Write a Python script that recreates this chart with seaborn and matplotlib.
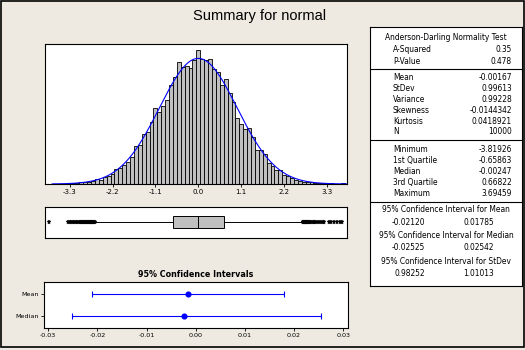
import numpy as np
import pandas as pd
import matplotlib
matplotlib.use("Agg")
import matplotlib.pyplot as plt
import seaborn as sns
from matplotlib.patches import Rectangle

# ---------------------------------------------------------------- data
bin_start = -3.85
bin_width = 0.1
hist_counts = [
    1, 0, 0, 0, 1, 2, 2, 3, 5, 5, 7, 9, 16, 13, 22, 27, 33, 49, 52, 62,
    70, 86, 122, 124, 160, 165, 198, 242, 228, 248, 268, 316, 342, 390,
    372, 375, 370, 396, 426, 400, 396, 398, 366, 358, 316, 334, 290, 262,
    209, 190, 175, 178, 150, 110, 110, 95, 66, 57, 46, 45, 30, 27, 18, 13,
    11, 7, 6, 5, 4, 3, 3, 2, 2, 1, 1, 2,
]
hist_ticks = [-3.3, -2.2, -1.1, 0.0, 1.1, 2.2, 3.3]
hist_tick_labels = ["-3.3", "-2.2", "-1.1", "0.0", "1.1", "2.2", "3.3"]

n_obs = 10000
a_squared = 0.35
p_value = 0.478
mean = -0.00167
stdev = 0.99613
variance = 0.99228
skewness = -0.0144342
kurtosis = 0.0418921
minimum = -3.81926
q1 = -0.65863
median = -0.00247
q3 = 0.66822
maximum = 3.69459
mean_ci = (-0.02120, 0.01785)
median_ci = (-0.02525, 0.02542)
stdev_ci = (0.98252, 1.01013)

whisker_low = -2.64
whisker_high = 2.65
outliers_low = [-3.81926, -3.33, -3.30, -3.26, -3.22, -3.18, -3.14, -3.10,
                -3.07, -3.04, -3.01, -2.98, -2.95, -2.92, -2.90, -2.87,
                -2.85, -2.82, -2.80, -2.78, -2.76, -2.74, -2.72, -2.70,
                -2.68, -2.66]
outliers_high = [2.67, 2.69, 2.71, 2.73, 2.75, 2.77, 2.79, 2.81, 2.84,
                 2.87, 2.90, 2.93, 2.96, 3.00, 3.04, 3.09, 3.14, 3.19,
                 3.22, 3.35, 3.41, 3.47, 3.55, 3.62, 3.69459]

ci_rows = ["Mean", "Median"]
ci_centers = [mean, median]
ci_low = [mean_ci[0], median_ci[0]]
ci_high = [mean_ci[1], median_ci[1]]
ci_ticks = [-0.03, -0.02, -0.01, 0.00, 0.01, 0.02, 0.03]
ci_tick_labels = ["-0.03", "-0.02", "-0.01", "0.00", "0.01", "0.02", "0.03"]

# ---------------------------------------------------------------- style
W, H = 525, 350
BG = "#EEEAE1"
BAR = "#C0C0C0"
sns.set_theme(style="white")
plt.rcParams["font.family"] = ["DejaVu Sans"]
plt.rcParams["axes.linewidth"] = 0.8
plt.rcParams["axes.edgecolor"] = "black"

fig = plt.figure(figsize=(W / 100, H / 100), dpi=100, facecolor=BG)


def px_box(left, top, right, bottom):
    """Axes rectangle given in pixel coordinates from the top-left corner."""
    return [left / W, 1 - bottom / H, (right - left) / W, (bottom - top) / H]


fig.text(260 / W, 1 - 16 / H, "Summary for normal", ha="center", va="center",
         fontsize=10.5, family="Liberation Sans", color="black")

# ---------------------------------------------------------------- histogram
ax_h = fig.add_axes(px_box(45, 43.5, 347, 184))
n_bins = len(hist_counts)
mids = bin_start + bin_width * (np.arange(n_bins) + 0.5)
hist_df = pd.DataFrame({"value": mids, "count": hist_counts})
sns.histplot(data=hist_df, x="value", weights="count", binwidth=bin_width,
             binrange=(bin_start, bin_start + n_bins * bin_width), ax=ax_h,
             color=BAR, edgecolor="black", linewidth=0.6, alpha=1.0)

# fitted normal curve scaled to the bin counts
xs = np.linspace(-3.75, 3.81, 300)
ys = n_obs * bin_width * np.exp(-0.5 * ((xs - mean) / stdev) ** 2) / (stdev * np.sqrt(2 * np.pi))
sns.lineplot(x=xs, y=ys, ax=ax_h, color="#0000FF", linewidth=0.8)

ax_h.set_xlim(-3.93, 3.81)
ax_h.set_ylim(0, 448)
ax_h.set_xticks(hist_ticks)
ax_h.set_xticklabels(hist_tick_labels)
ax_h.set_yticks([])
ax_h.set_xlabel("")
ax_h.set_ylabel("")
ax_h.set_facecolor("white")
ax_h.tick_params(axis="x", direction="out", length=2.2, width=0.6,
                 labelsize=5, pad=1.5, bottom=True, colors="black")

# ---------------------------------------------------------------- box plot
ax_b = fig.add_axes(px_box(45, 206.7, 347, 238.3))
box_stats = [dict(med=median, q1=q1, q3=q3, whislo=whisker_low,
                  whishi=whisker_high,
                  fliers=np.array(outliers_low + outliers_high), label="")]
ax_b.bxp(box_stats, positions=[0.52], widths=0.37, orientation="horizontal",
         patch_artist=True, showcaps=False,
         boxprops=dict(facecolor=BAR, edgecolor="black", linewidth=0.7),
         medianprops=dict(color="black", linewidth=0.7),
         whiskerprops=dict(color="black", linewidth=0.7),
         flierprops=dict(marker="*", markersize=3.6, markerfacecolor="black",
                         markeredgecolor="black", markeredgewidth=0.3))
ax_b.set_xlim(-3.93, 3.81)
ax_b.set_ylim(0, 1)
ax_b.set_xticks([])
ax_b.set_yticks([])
ax_b.set_facecolor("white")

# ---------------------------------------------------------------- confidence intervals
fig.text(196 / W, 1 - 274.5 / H, "95% Confidence Intervals", ha="center",
         va="center", fontsize=5.8, fontweight="bold", color="black")
ax_c = fig.add_axes(px_box(44.3, 282.3, 347.7, 327.7))
ci_df = pd.DataFrame({"row": ci_rows, "center": ci_centers,
                      "low": ci_low, "high": ci_high})
ax_c.errorbar(ci_df["center"], np.arange(len(ci_df)),
              xerr=[ci_df["center"] - ci_df["low"], ci_df["high"] - ci_df["center"]],
              fmt="o", color="#0000FF", ms=3.4, elinewidth=0.8, capsize=2.0,
              capthick=0.8)
ax_c.set_xlim(-0.0308, 0.0309)
ax_c.set_ylim(1.5, -0.5)
ax_c.set_xticks(ci_ticks)
ax_c.set_xticklabels(ci_tick_labels)
ax_c.set_yticks(range(len(ci_rows)))
ax_c.set_yticklabels(ci_rows)
ax_c.set_facecolor("white")
ax_c.tick_params(axis="both", direction="out", length=2.2, width=0.6,
                 labelsize=4.6, pad=1.5, bottom=True, left=True, colors="black")

# ---------------------------------------------------------------- summary table
ax_t = fig.add_axes(px_box(370, 26.7, 521.5, 285.7))
ax_t.set_xlim(370, 521.5)
ax_t.set_ylim(285.7, 26.7)
ax_t.set_xticks([])
ax_t.set_yticks([])
ax_t.set_facecolor("white")

TXT = dict(fontsize=5.45, color="black", va="center")
label_x, value_x = 393, 512
ax_t.text(446, 37, "Anderson-Darling Normality Test", ha="center", **TXT)

rows = [
    ("A-Squared", f"{a_squared:.2f}", 49.5),
    ("P-Value", f"{p_value:.3f}", 61),
    ("Mean", f"{mean:.5f}", 77.5),
    ("StDev", f"{stdev:.5f}", 88.5),
    ("Variance", f"{variance:.5f}", 99.5),
    ("Skewness", f"{skewness:.7f}", 110.5),
    ("Kurtosis", f"{kurtosis:.7f}", 121.5),
    ("N", f"{n_obs}", 132),
    ("Minimum", f"{minimum:.5f}", 149.5),
    ("1st Quartile", f"{q1:.5f}", 160.5),
    ("Median", f"{median:.5f}", 171.5),
    ("3rd Quartile", f"{q3:.5f}", 182.5),
    ("Maximum", f"{maximum:.5f}", 193.5),
]
for label, value, y in rows:
    ax_t.text(label_x, y, label, ha="left", **TXT)
    ax_t.text(value_x, y, value, ha="right", **TXT)

for y in (68.5, 140, 201.5):
    ax_t.axhline(y, color="black", linewidth=0.8)

ci_blocks = [
    ("95% Confidence Interval for Mean", mean_ci, 210, 222.5),
    ("95% Confidence Interval for Median", median_ci, 235, 248),
    ("95% Confidence Interval for StDev", stdev_ci, 261, 273.5),
]
for title, (lo, hi), y_title, y_vals in ci_blocks:
    ax_t.text(446, y_title, title, ha="center", **TXT)
    ax_t.text(425, y_vals, f"{lo:.5f}", ha="right", **TXT)
    ax_t.text(494, y_vals, f"{hi:.5f}", ha="right", **TXT)

# ---------------------------------------------------------------- outer frame
fig.patches.append(Rectangle((0.75 / W, 1 - 346.5 / H), 523 / W, 345.75 / H,
                             transform=fig.transFigure, fill=False,
                             edgecolor="black", linewidth=1.2))

fig.savefig("out.png", dpi=100, facecolor=BG)
